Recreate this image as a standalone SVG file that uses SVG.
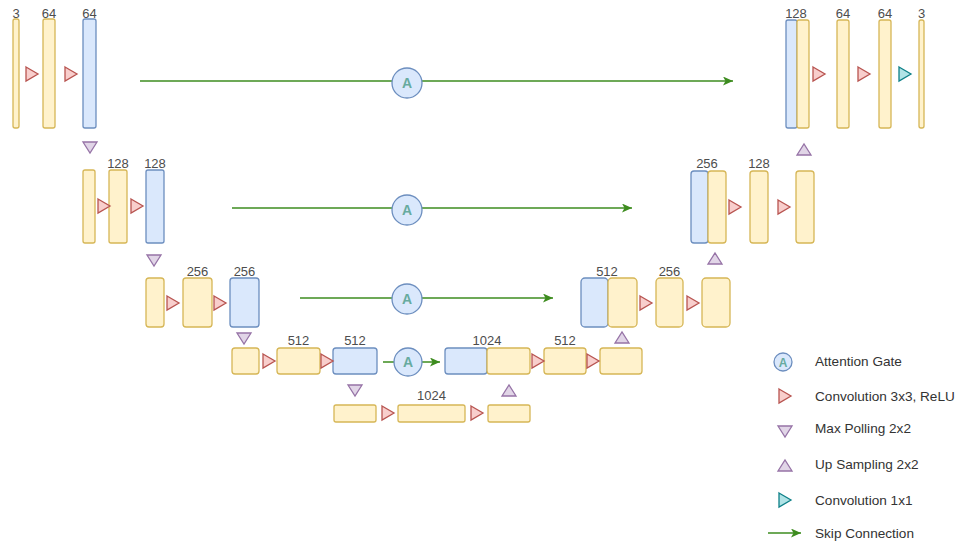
<svg xmlns="http://www.w3.org/2000/svg" width="956" height="545" viewBox="0 0 956 545">
<style>
.y{fill:#fff2cc;stroke:#d6b656;stroke-width:1.3}
.b{fill:#dae8fc;stroke:#6c8ebf;stroke-width:1.3}
.c{fill:#f8cecc;stroke:#b85450;stroke-width:1.3}
.p{fill:#e1d5e7;stroke:#9673a6;stroke-width:1.3}
.t{fill:#b0e3e6;stroke:#0e8088;stroke-width:1.3}
.lbl{font-family:"Liberation Sans",Arial,sans-serif;font-size:13px;fill:#4d4d4d;text-anchor:middle}
.leg{font-family:"Liberation Sans",Arial,sans-serif;font-size:13.6px;fill:#333}
.ag circle{fill:#dae8fc;stroke:#6c8ebf;stroke-width:1.3}
.ag text{font-family:"Liberation Sans",Arial,sans-serif;font-weight:bold;fill:#67ab9f;text-anchor:middle}
.sk{stroke:#3d8c1f;stroke-width:1.5;fill:none}
</style>
<defs>
<marker id="ar" markerUnits="userSpaceOnUse" markerWidth="11" markerHeight="9" refX="10" refY="4.5" orient="auto">
<path d="M0,0 L10,4.5 L0,9 L2.5,4.5 z" fill="#3d8c1f"/>
</marker>
<polygon id="conv" points="0,-7 12,0 0,7"/>
<polygon id="down" points="-7,0 7,0 0,11"/>
<polygon id="up" points="-7,11 7,11 0,0"/>
</defs>

<g id="connectors">
<line class="sk" x1="140" y1="81" x2="733" y2="81" marker-end="url(#ar)"/>
<line class="sk" x1="232" y1="208" x2="632" y2="208" marker-end="url(#ar)"/>
<line class="sk" x1="300" y1="298" x2="553" y2="298" marker-end="url(#ar)"/>
<line class="sk" x1="383" y1="362" x2="440" y2="362" marker-end="url(#ar)"/>
</g>

<g id="attention-gates">
<g id="ag1" class="ag"><circle cx="407" cy="83" r="15"/><text x="407" y="88" font-size="14">A</text></g>
<g id="ag2" class="ag"><circle cx="407" cy="210" r="15"/><text x="407" y="215" font-size="14">A</text></g>
<g id="ag3" class="ag"><circle cx="407" cy="299" r="15"/><text x="407" y="304" font-size="14">A</text></g>
<g id="ag4" class="ag"><circle cx="408" cy="362" r="14"/><text x="408" y="367" font-size="14">A</text></g>
</g>

<!-- Row 1 encoder -->
<g id="e1a"><rect class="y" x="13" y="19" width="6" height="109" rx="2"/><text class="lbl" x="16" y="18">3</text></g>
<g id="e1b"><rect class="y" x="43" y="19" width="12" height="109" rx="2"/><text class="lbl" x="49" y="18">64</text></g>
<g id="e1c"><rect class="b" x="83" y="19" width="13" height="109" rx="2"/><text class="lbl" x="89.5" y="18">64</text></g>
<g id="ops1"><use href="#conv" class="c" x="26" y="74"/><use href="#conv" class="c" x="65" y="74"/><use href="#down" class="p" x="90" y="142"/></g>

<!-- Row 2 encoder -->
<g id="e2a"><rect class="y" x="83" y="170" width="12" height="73" rx="2"/></g>
<g id="e2b"><rect class="y" x="109" y="170" width="18" height="73" rx="2"/><text class="lbl" x="118" y="168">128</text></g>
<g id="e2c"><rect class="b" x="146" y="170" width="18" height="73" rx="2"/><text class="lbl" x="155" y="168">128</text></g>
<g id="ops2"><use href="#conv" class="c" x="98" y="206"/><use href="#conv" class="c" x="131" y="206"/><use href="#down" class="p" x="154" y="255"/></g>

<!-- Row 3 encoder -->
<g id="e3a"><rect class="y" x="146" y="278" width="18" height="49" rx="3"/></g>
<g id="e3b"><rect class="y" x="183" y="278" width="29" height="49" rx="3"/><text class="lbl" x="197.5" y="276">256</text></g>
<g id="e3c"><rect class="b" x="230" y="278" width="29" height="49" rx="3"/><text class="lbl" x="244.5" y="276">256</text></g>
<g id="ops3"><use href="#conv" class="c" x="167" y="303"/><use href="#conv" class="c" x="214" y="303"/><use href="#down" class="p" x="244" y="333"/></g>

<!-- Row 4 encoder -->
<g id="e4a"><rect class="y" x="232" y="348" width="27" height="26" rx="3"/></g>
<g id="e4b"><rect class="y" x="277" y="348" width="43" height="26" rx="3"/><text class="lbl" x="298.5" y="345">512</text></g>
<g id="e4c"><rect class="b" x="333" y="348" width="44" height="26" rx="3"/><text class="lbl" x="355" y="345">512</text></g>
<g id="ops4"><use href="#conv" class="c" x="263" y="361"/><use href="#conv" class="c" x="321" y="361"/><use href="#down" class="p" x="355" y="385"/></g>

<!-- Bottleneck -->
<g id="b1"><rect class="y" x="334" y="405" width="42" height="17" rx="2"/></g>
<g id="b2"><rect class="y" x="398" y="405" width="67" height="17" rx="2"/><text class="lbl" x="431.5" y="400">1024</text></g>
<g id="b3"><rect class="y" x="488" y="405" width="42" height="17" rx="2"/></g>
<g id="ops5"><use href="#conv" class="c" x="382" y="413"/><use href="#conv" class="c" x="471" y="413"/><use href="#up" class="p" x="509" y="385"/></g>

<!-- Row 4 decoder -->
<g id="d4a"><rect class="b" x="445" y="348" width="42" height="26" rx="3"/><rect class="y" x="487" y="348" width="43" height="26" rx="3"/><text class="lbl" x="487" y="345">1024</text></g>
<g id="d4b"><rect class="y" x="544" y="348" width="42" height="26" rx="3"/><text class="lbl" x="565" y="345">512</text></g>
<g id="d4c"><rect class="y" x="600" y="348" width="42" height="26" rx="3"/></g>
<g id="ops6"><use href="#conv" class="c" x="532" y="361"/><use href="#conv" class="c" x="587" y="361"/><use href="#up" class="p" x="622" y="332"/></g>

<!-- Row 3 decoder -->
<g id="d3a"><rect class="b" x="581" y="278" width="27" height="49" rx="4"/><rect class="y" x="608" y="278" width="29" height="49" rx="4"/><text class="lbl" x="607" y="276">512</text></g>
<g id="d3b"><rect class="y" x="656" y="278" width="27" height="49" rx="4"/><text class="lbl" x="669.5" y="276">256</text></g>
<g id="d3c"><rect class="y" x="702" y="278" width="28" height="49" rx="4"/></g>
<g id="ops7"><use href="#conv" class="c" x="640" y="303"/><use href="#conv" class="c" x="687" y="303"/><use href="#up" class="p" x="715" y="253"/></g>

<!-- Row 2 decoder -->
<g id="d2a"><rect class="b" x="691" y="171" width="17" height="72" rx="3"/><rect class="y" x="708" y="171" width="18" height="72" rx="3"/><text class="lbl" x="707" y="168">256</text></g>
<g id="d2b"><rect class="y" x="750" y="171" width="18" height="72" rx="3"/><text class="lbl" x="759" y="168">128</text></g>
<g id="d2c"><rect class="y" x="796" y="171" width="18" height="72" rx="3"/></g>
<g id="ops8"><use href="#conv" class="c" x="729" y="207"/><use href="#conv" class="c" x="778" y="207"/><use href="#up" class="p" x="804" y="144"/></g>

<!-- Row 1 decoder -->
<g id="d1a"><rect class="b" x="786" y="20" width="11" height="108" rx="2"/><rect class="y" x="797" y="20" width="12" height="108" rx="2"/><text class="lbl" x="796" y="18">128</text></g>
<g id="d1b"><rect class="y" x="837" y="20" width="12" height="108" rx="2"/><text class="lbl" x="843" y="18">64</text></g>
<g id="d1c"><rect class="y" x="879" y="20" width="12" height="108" rx="2"/><text class="lbl" x="885" y="18">64</text></g>
<g id="d1d"><rect class="y" x="919" y="20" width="5" height="108" rx="2"/><text class="lbl" x="921.5" y="18">3</text></g>
<g id="ops9"><use href="#conv" class="c" x="813" y="74"/><use href="#conv" class="c" x="858" y="74"/><use href="#conv" class="t" x="899" y="74"/></g>

<!-- Legend -->
<g id="legend">
<g class="ag"><circle cx="783" cy="362" r="9"/><text x="783" y="366.5" font-size="12">A</text></g>
<text class="leg" x="815" y="366">Attention Gate</text>
<use href="#conv" class="c" x="779" y="396"/>
<text class="leg" x="815" y="401">Convolution 3x3, ReLU</text>
<use href="#down" class="p" x="785" y="426"/>
<text class="leg" x="815" y="433">Max Polling 2x2</text>
<use href="#up" class="p" x="785" y="460"/>
<text class="leg" x="815" y="469">Up Sampling 2x2</text>
<use href="#conv" class="t" x="779" y="500"/>
<text class="leg" x="815" y="505">Convolution 1x1</text>
<line class="sk" x1="768" y1="533" x2="801" y2="533" marker-end="url(#ar)"/>
<text class="leg" x="815" y="538">Skip Connection</text>
</g>
</svg>
